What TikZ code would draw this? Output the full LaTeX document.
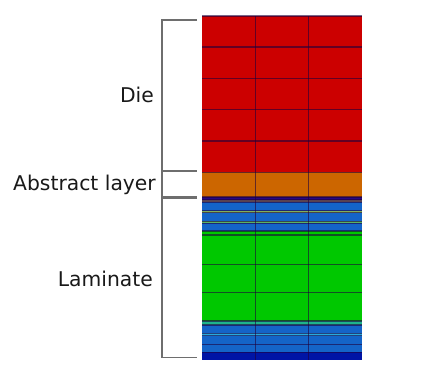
\documentclass[tikz,border=0pt]{standalone}
\usepackage{fontspec}
\setmainfont{DejaVu Sans}
\definecolor{cRed}{RGB}{204,0,0}
\definecolor{cOrange}{RGB}{204,102,0}
\definecolor{cNavy}{RGB}{40,10,130}
\definecolor{cTan}{RGB}{180,165,110}
\definecolor{cBlue}{RGB}{20,100,200}
\definecolor{cOlive}{RGB}{130,175,90}
\definecolor{cGreenGray}{RGB}{90,180,100}
\definecolor{cGreen}{RGB}{0,200,0}
\definecolor{cTeal}{RGB}{30,180,140}
\definecolor{cCyan}{RGB}{40,170,220}
\definecolor{cDeep}{RGB}{0,20,165}
\definecolor{cGrid}{RGB}{30,0,60}
\definecolor{cBracket}{RGB}{110,110,110}
\tikzset{
  layer/.style={fill=#1, draw=none},
  gridline/.style={draw=cGrid, line width=1.3pt, opacity=0.6},
  bracket/.style={draw=cBracket, line width=1.1pt},
  lbl/.style={anchor=base east, inner sep=0pt, font=\fontsize{20.3}{24}\selectfont, text=black!90}
}
\begin{document}
\begin{tikzpicture}[x=1pt,y=-1pt]
\useasboundingbox (0,0) rectangle (441,373);
% layers
\def\xl{202}\def\xr{362}
\foreach \a/\b/\c in {16/172.3/cRed, 172.3/197/cOrange, 197/200/cNavy, 200/202/cTan,
  202/210.7/cBlue, 210.7/212.7/cOlive, 212.7/221.3/cBlue, 221.3/223.3/cGreenGray,
  223.3/231/cBlue, 231/235/cGreen, 235/321/cGreen, 321/325/cTeal, 325/333.3/cBlue,
  333.3/335.7/cCyan, 335.7/344.6/cBlue, 344.6/352.3/cBlue, 352.3/359.5/cDeep}
  {\fill[layer=\c] (\xl,\a) rectangle (\xr,\b);}
% horizontal grid lines
\foreach \y in {16,47,78.3,109.6,141,172.3,197,200,202,210.7,212.7,221.3,223.3,231,235,264.3,292.7,321,325,333.3,335.7,344.6,352.3}
  {\draw[gridline] (\xl,\y) -- (\xr,\y);}
% vertical grid lines
\foreach \x in {255.3,308.3}
  {\draw[gridline] (\x,16) -- (\x,359.5);}
% brackets
\coordinate (dT1) at (197,20);   \coordinate (dT0) at (162,20);
\coordinate (dB0) at (162,171);  \coordinate (dB1) at (197,171);
\coordinate (aB0) at (162,197);  \coordinate (aB1) at (197,197);
\coordinate (lT1) at (197,198.8); \coordinate (lT0) at (162,198.8);
\coordinate (lB0) at (162,357.3); \coordinate (lB1) at (197,357.3);
\draw[bracket] (dT1) -- (dT0) -- (dB0) -- (dB1);
\draw[bracket] (dB0) -- (aB0) -- (aB1);
\draw[bracket] (lT1) -- (lT0) -- (lB0) -- (lB1);
% labels
\node[lbl] (die) at (154,102.3) {Die};
\node[lbl] (abs) at (156,190) {Abstract layer};
\node[lbl] (lam) at (153,286.7) {Laminate};
\end{tikzpicture}
\end{document}
